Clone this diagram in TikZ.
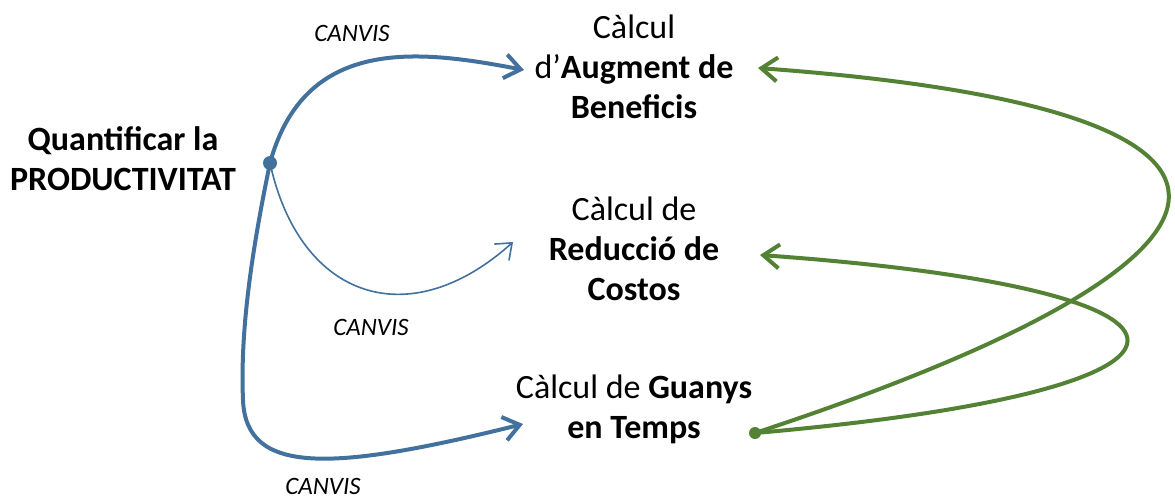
\documentclass[tikz,border=0pt]{standalone}
\usepackage{fontspec}
\setmainfont{Carlito}
\usetikzlibrary{arrows.meta}

\definecolor{linkblue}{RGB}{65,113,156}
\definecolor{linkgreen}{RGB}{84,130,53}

\begin{document}
\begin{tikzpicture}[x=0.5pt, y=-0.5pt,
    every node/.style={font=\fontsize{17}{20}\selectfont, align=center}, % main labels
    tag/.style={font=\fontsize{12.5}{14}\selectfont\itshape},
    barb/.style={-{Straight Barb[length=8pt,width=12pt]}},
    thickblue/.style={linkblue, line width=2pt, barb},
    thinblue/.style={linkblue, line width=0.8pt, -{Straight Barb[length=7pt,width=11pt]}},
    thickgreen/.style={linkgreen, line width=2pt, barb}]
  \useasboundingbox (0,0) rectangle (1175,500);

  % Left starting label
  \node (quant) at (123,159) {\textbf{Quantificar la}\\\textbf{PRODUCTIVITAT}};

  % Targets on the right
  \node (benef) at (634,67)  {Càlcul\\d’\textbf{Augment de}\\\textbf{Beneficis}};
  \node (costs) at (634,249) {Càlcul de\\\textbf{Reducció de}\\\textbf{Costos}};
  \node (temps) at (634,409) {Càlcul de \textbf{Guanys}\\\textbf{en Temps}};

  % Connector ends
  \coordinate (bdot) at (270,163);
  \coordinate (gdot) at (755,433);
  \coordinate (benefin) at (524,70);
  \coordinate (costsin) at (513,242);
  \coordinate (tempsin) at (523,424);
  \coordinate (benefback) at (758,68);
  \coordinate (costsback) at (760,255);

  % Blue links (CANVIS)
  \draw[thickblue] (bdot) .. controls (305,35) and (420,50) .. (benefin);
  \draw[thinblue]  (bdot) .. controls (300,300) and (410,335) .. (costsin);
  \draw[thickblue] (bdot) .. controls (252,250) and (240,330) .. (243,400)
                          .. controls (246,475) and (330,472) .. (tempsin);
  \fill[linkblue] (bdot) circle (7);

  \node[tag] (canvis1) at (352,33)  {CANVIS};
  \node[tag] (canvis2) at (371,327) {CANVIS};
  \node[tag] (canvis3) at (323,486) {CANVIS};

  % Green links back
  \draw[thickgreen] (gdot) .. controls (1280,260) and (1330,110) .. (benefback);
  \draw[thickgreen] (gdot) .. controls (1250,390) and (1250,290) .. (costsback);
  \fill[linkgreen] (gdot) circle (6);
\end{tikzpicture}
\end{document}
